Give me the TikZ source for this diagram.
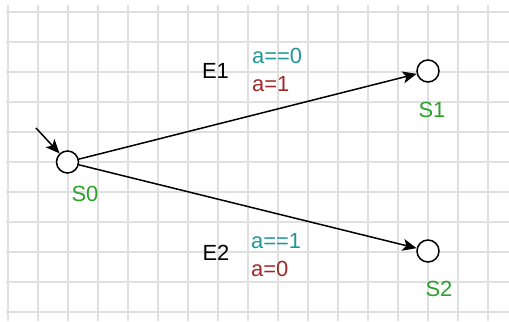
\documentclass[tikz,border=0pt]{standalone}
\usepackage{fontspec}
\setmainfont{Liberation Sans}
\definecolor{gridline}{RGB}{224,224,224}
\definecolor{statename}{RGB}{44,160,44}
\definecolor{guardtext}{RGB}{32,150,150}
\definecolor{actiontext}{RGB}{160,40,40}
\usetikzlibrary{arrows.meta, positioning}

\begin{document}
\begin{tikzpicture}[x=1bp, y=-1bp,
    state/.style={draw, line width=1.5bp, circle, fill=white,
                  minimum size=22bp, inner sep=0pt},
    lbl/.style={inner sep=0pt, font=\fontsize{22}{26}\selectfont},
    statelabel/.style={lbl, text=statename},
    guard/.style={lbl, anchor=west, text=guardtext},
    action/.style={lbl, anchor=west, text=actiontext},
    trans/.style={-{Stealth[length=14bp, width=12bp, inset=3.5bp]}, line width=1.5bp}]
    \useasboundingbox (0,0) rectangle (509,321);
    % background grid
    \foreach \gx in {8,38,...,488}
        \draw[gridline, line width=1.4bp] (\gx,5) -- (\gx,321);
    \foreach \gy in {12,42,...,312}
        \draw[gridline, line width=1.4bp] (6,\gy) -- (509,\gy);

    % states
    \node[state] (s0) at (67.5,162) {};
    \node[state] (s1) at (428,71) {};
    \node[state] (s2) at (428,251) {};
    \coordinate (init) at (36,128);

    \node[statelabel] (s0name) at (85,194) {S0};
    \node[statelabel] (s1name) at (432,110) {S1};
    \node[statelabel] (s2name) at (439,289) {S2};

    % transitions
    \draw[trans] (init) -- (s0);
    \draw[trans] (s0) -- (s1);
    \draw[trans] (s0) -- (s2);

    \node[lbl] (e1) at (215.5,70.5) {E1};
    \node[guard] (g1) at (252,56) {a==0};
    \node[action] (a1) at (252,84) {a=1};
    \node[lbl] (e2) at (216,253) {E2};
    \node[guard] (g2) at (251,241) {a==1};
    \node[action] (a2) at (251,269) {a=0};
\end{tikzpicture}
\end{document}
